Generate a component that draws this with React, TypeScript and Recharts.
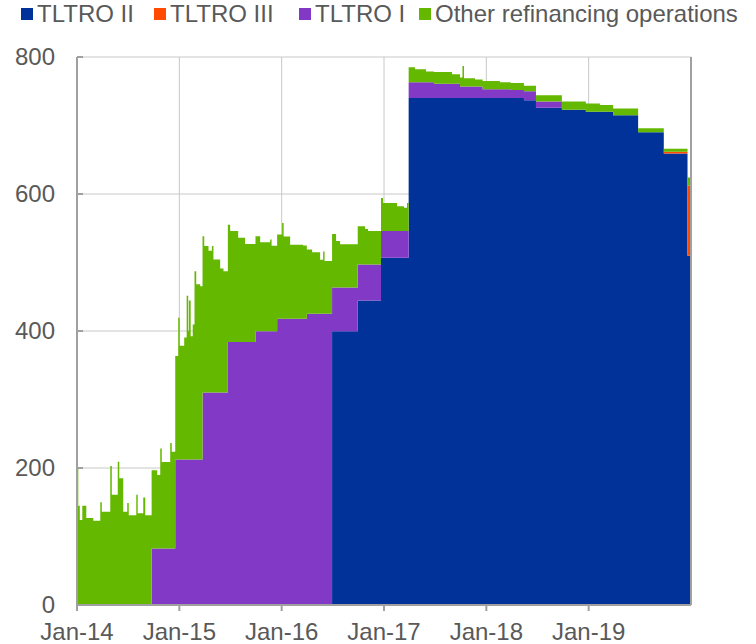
import { AreaChart, Area, XAxis, YAxis, CartesianGrid } from 'recharts'

// months since Jan-14 at which an operation settles or the outstanding amount changes
const months = [
  // 2014
  0, 0.15, 0.33, 0.62, 1.09, 1.91, 2.73, 2.91, 3.9, 4.08, 4.78, 4.96, 5.42, 5.89, 6.07, 6.95, 7.12, 7.77, 8.0, 8.75, 9.41, 9.76, 9.94, 10.93, 11.11,
  // 2015
  11.52, 11.87, 12.04, 12.57, 12.86, 13.04, 13.12, 13.33, 13.57, 13.78, 13.98, 14.45,
  14.72, 14.92, 15.42, 15.82, 16.0, 16.79, 17.18, 17.69, 17.96, 18.9, 19.71, 20.93, 21.48, 22.65, 22.82, 23.47,
  // 2016
  24.05, 24.23, 24.99, 26.51, 26.95, 27.57, 28.51, 28.86, 29.03, 29.91, 30.38, 30.85, 32.92, 33.78, 34.13, 35.65, 35.89,
  // 2017
  37.53, 38.35, 38.7, 38.89, 39.64, 40.93, 41.86, 43.97, 44.91, 45.2, 45.38, 46.67,
  // 2018
  47.57, 49.59, 50.85, 52.41, 53.82, 56.86,
  // 2019
  59.67, 61.32, 62.87, 65.8, 68.81, 71.59, 72.0,
]

const tltro2 = [
  0, 0, 0, 0, 0, 0, 0, 0, 0, 0, 0, 0, 0, 0, 0, 0, 0, 0, 0, 0, 0, 0, 0, 0, 0,
  0, 0, 0, 0, 0, 0, 0, 0, 0, 0, 0, 0,
  0, 0, 0, 0, 0, 0, 0, 0, 0, 0, 0, 0, 0, 0, 0, 0,
  0, 0, 0, 0, 0, 0, 0, 0, 0, 399.5, 399.5, 399.5, 444.5, 444.5, 444.5, 507, 507,
  507, 507, 507, 740, 740, 740, 740, 740, 740, 740, 740, 740,
  740, 740, 740, 737, 726, 723,
  720, 720, 715, 690, 659, 510, 510,
]

const tltro3 = [
  0, 0, 0, 0, 0, 0, 0, 0, 0, 0, 0, 0, 0, 0, 0, 0, 0, 0, 0, 0, 0, 0, 0, 0, 0,
  0, 0, 0, 0, 0, 0, 0, 0, 0, 0, 0, 0,
  0, 0, 0, 0, 0, 0, 0, 0, 0, 0, 0, 0, 0, 0, 0, 0,
  0, 0, 0, 0, 0, 0, 0, 0, 0, 0, 0, 0, 0, 0, 0, 0, 0,
  0, 0, 0, 0, 0, 0, 0, 0, 0, 0, 0, 0,
  0, 0, 0, 0, 0, 0,
  0, 0, 0, 0, 2.5, 102.5, 102.5,
]

const tltro1 = [
  0, 0, 0, 0, 0, 0, 0, 0, 0, 0, 0, 0, 0, 0, 0, 0, 0, 0, 0, 82.6, 82.6, 82.6, 82.6, 82.6, 82.6,
  212.4, 212.4, 212.4, 212.4, 212.4, 212.4, 212.4, 212.4, 212.4, 212.4, 212.4, 212.4,
  310.2, 310.2, 310.2, 310.2, 310.2, 310.2, 310.2, 384, 384, 384, 384, 399.5, 399.5, 399.5, 399.5, 417.8,
  417.8, 417.8, 417.8, 417.8, 425.1, 425.1, 425.1, 425.1, 425.1, 64, 64, 64, 52.5, 52.5, 52.5, 39, 39,
  39, 39, 39, 23, 23, 23, 21, 21, 17, 17, 17, 17,
  13, 13, 12, 13, 9, 0,
  0, 0, 0, 0, 0, 0, 0,
]

const other = [
  200, 145, 124, 145, 127, 123, 150, 136, 203, 161, 209, 185, 136, 149, 131, 161, 134, 157, 131, 114, 107, 146, 126, 154, 141,
  151, 207, 166, 178, 239, 188, 232, 180, 197, 275, 256, 253,
  228, 214, 207, 214, 194, 181, 177, 171, 162, 152, 143, 139, 130, 134, 125, 123,
  140, 120, 108, 107, 94, 90, 79, 91, 77, 78, 68, 63, 56, 52, 49, 48, 41,
  36, 34, 41, 22, 19, 16, 17, 14, 13, 30, 12, 10,
  12, 10, 10, 8, 9, 12,
  12, 10, 10, 6, 4.5, 11.5, 11.5,
]

const xTicks = [0, 12, 24, 36, 48, 60]
const xTickLabels = ['Jan-14', 'Jan-15', 'Jan-16', 'Jan-17', 'Jan-18', 'Jan-19']
const yTicks = [0, 200, 400, 600, 800]

const series = [
  { key: 'tltro2', name: 'TLTRO II', color: '#003299', left: 21 },
  { key: 'tltro3', name: 'TLTRO III', color: '#FF4B00', left: 154 },
  { key: 'tltro1', name: 'TLTRO I', color: '#8139C6', left: 299 },
  { key: 'other', name: 'Other refinancing operations', color: '#65B800', left: 419 },
]

const data = months.map((m, i) => ({
  m,
  tltro2: tltro2[i],
  tltro3: tltro3[i],
  tltro1: tltro1[i],
  other: other[i],
}))

const FONT = '"Liberation Sans", Arial, sans-serif'
const TEXT = '#595959'
const AXIS = '#a0a0a0'

function LeftTick(props: any) {
  const { x, y, payload } = props
  return (
    <g>
      <line x1={x + 22} x2={x + 28} y1={y} y2={y} stroke={AXIS} strokeWidth={2} />
      <text x={x} y={y} dy="0.35em" textAnchor="end" fill={TEXT} fontSize={24} fontFamily={FONT}>
        {payload.value}
      </text>
    </g>
  )
}

function RightTick(props: any) {
  const { x, y, payload } = props
  return (
    <g>
      <line x1={x - 27} x2={x - 21} y1={y} y2={y} stroke={AXIS} strokeWidth={2} />
      <text x={x} y={y} dy="0.35em" textAnchor="start" fill={TEXT} fontSize={24} fontFamily={FONT}>
        {payload.value}
      </text>
    </g>
  )
}

export default function App() {
  return (
    <div style={{ position: 'absolute', left: 0, top: 0, width: 756, height: 644, background: '#fff' }}>
      {series.map(s => (
        <div
          key={s.key}
          style={{
            position: 'absolute',
            left: s.left,
            top: 0,
            display: 'flex',
            alignItems: 'center',
            height: 28,
            fontFamily: FONT,
            fontSize: 24,
            color: TEXT,
            whiteSpace: 'nowrap',
          }}
        >
          <span style={{ display: 'inline-block', width: 12, height: 12, background: s.color, marginRight: 4 }} />
          {s.name}
        </div>
      ))}
      <AreaChart width={756} height={644} data={data} margin={{ top: 57, right: 0, bottom: 0, left: 0 }}>
        <CartesianGrid yAxisId="left" stroke="#c8c8c8" strokeWidth={1} />
        <XAxis
          dataKey="m"
          type="number"
          domain={[0, 72]}
          ticks={xTicks}
          tickFormatter={(v: number) => xTickLabels[xTicks.indexOf(v)]}
          height={39}
          axisLine={{ stroke: AXIS, strokeWidth: 2 }}
          tickLine={{ stroke: AXIS, strokeWidth: 2 }}
          tickSize={6}
          tickMargin={12}
          tick={{ fill: TEXT, fontSize: 24, fontFamily: FONT }}
          allowDataOverflow
        />
        <YAxis
          yAxisId="left"
          domain={[0, 800]}
          ticks={yTicks}
          width={77}
          axisLine={{ stroke: AXIS, strokeWidth: 2 }}
          tickLine={false}
          tickSize={0}
          tickMargin={22}
          tick={<LeftTick />}
        />
        <YAxis
          yAxisId="right"
          orientation="right"
          domain={[0, 800]}
          ticks={yTicks}
          width={65}
          axisLine={{ stroke: AXIS, strokeWidth: 2 }}
          tickLine={false}
          tickSize={0}
          tickMargin={21}
          tick={<RightTick />}
        />
        {series.map(s => (
          <Area
            key={s.key}
            yAxisId="left"
            type="stepAfter"
            dataKey={s.key}
            name={s.name}
            stackId="a"
            stroke="none"
            fill={s.color}
            fillOpacity={1}
            isAnimationActive={false}
            dot={false}
            activeDot={false}
          />
        ))}
      </AreaChart>
    </div>
  )
}
